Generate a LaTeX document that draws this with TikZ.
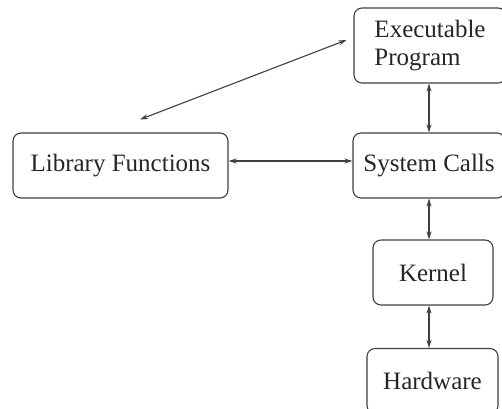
\documentclass[tikz,border=0pt]{standalone}
\usepackage{fontspec}
\setmainfont{Liberation Serif}
\usetikzlibrary{arrows.meta,calc}
\begin{document}
\begin{tikzpicture}[x=1pt,y=-1pt,
  box/.style={draw=black!75,line width=1.1pt,rounded corners=8pt,inner sep=0pt,
    font=\fontsize{25}{28}\selectfont,text=black!85,align=left},
  link/.style={draw=black!75,line width=1.1pt,{Stealth[length=8pt,width=5pt]}-{Stealth[length=8pt,width=5pt]}}]
\useasboundingbox (0,0) rectangle (502,408);
\clip (0,0) rectangle (502,408);
\fill[white] (0,0) rectangle (502,408);
\node[box,minimum width=152pt,minimum height=75pt] (exec) at (430,45.5) {Executable\\Program};
\node[box,minimum width=152pt,minimum height=65pt] (sys) at (429,165.5) {System Calls};
\node[box,minimum width=215pt,minimum height=65pt] (lib) at (120.5,165.5) {Library Functions};
\node[box,minimum width=120pt,minimum height=65pt] (kern) at (433,272.5) {Kernel};
\node[box,minimum width=131pt,minimum height=65pt] (hw) at (432.5,381) {Hardware};
\coordinate (d1) at ($(lib.north)+(19.5,-13)$);
\coordinate (d2) at ($(exec.west)+(-7,-5.5)$);
\coordinate (k1) at ($(kern.south)+(-4,0)$);
\draw[link] (d1) -- (d2);
\draw[link] ([yshift=4.5pt]lib.east) -- ([yshift=4.5pt]sys.west);
\draw[link] (sys.north) -- (sys.north |- exec.south);
\draw[link] (sys.south) -- (sys.south |- kern.north);
\draw[link] (k1) -- (k1 |- hw.north);
\end{tikzpicture}
\end{document}
